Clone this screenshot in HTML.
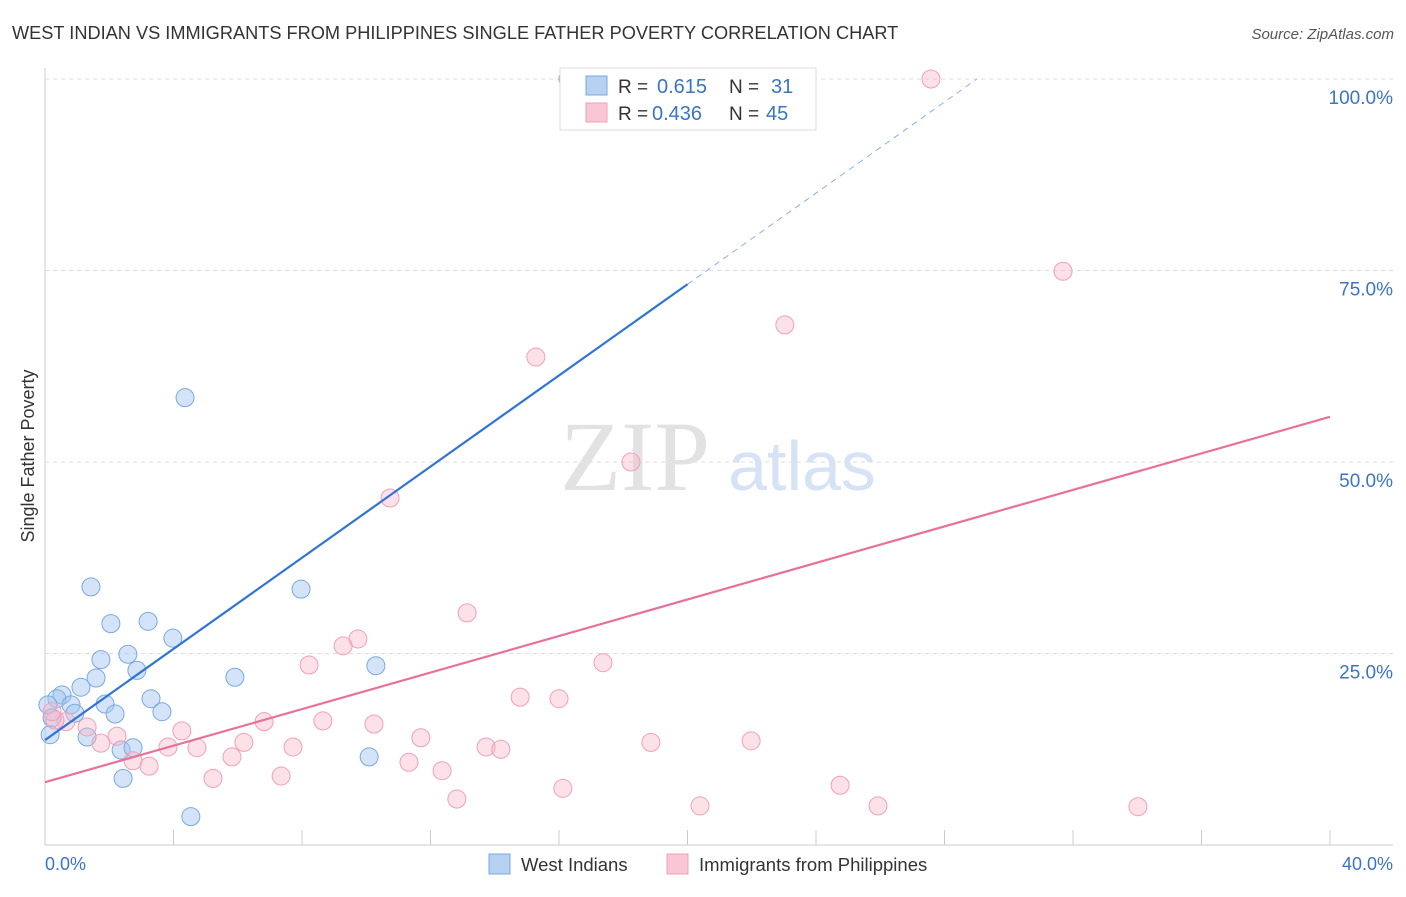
<!DOCTYPE html>
<html><head><meta charset="utf-8"><style>
body{margin:0;background:#fff;font-family:"Liberation Sans",sans-serif;}
</style></head><body>
<svg id="chart" width="1406" height="892" viewBox="0 0 1406 892" xmlns="http://www.w3.org/2000/svg" font-family="Liberation Sans, sans-serif">
<text x="12" y="39" font-size="18.2" fill="#333">WEST INDIAN VS IMMIGRANTS FROM PHILIPPINES SINGLE FATHER POVERTY CORRELATION CHART</text>
<text x="1394" y="39" font-size="15" fill="#555" text-anchor="end" font-style="italic">Source: ZipAtlas.com</text>
<g id="grid"></g>
<text x="635" y="490" font-size="100" fill="#e2e2e2" text-anchor="middle" style="font-family:'Liberation Serif',serif">ZIP</text>
<text x="802" y="490" font-size="70" fill="#d6e3f5" text-anchor="middle">atlas</text>
<text transform="translate(34,456) rotate(-90)" font-size="18" fill="#333" text-anchor="middle">Single Father Poverty</text>
<g id="points"></g>
<g id="lines"></g>
<g>
<rect x="560" y="68" width="256" height="62" fill="#fff" stroke="#ddd"/>
<rect x="586" y="76" width="21" height="19" fill="#b7d1f3" stroke="#7aa8e0"/>
<text x="618" y="93" font-size="19" fill="#333">R =</text>
<text x="657" y="93" font-size="20" fill="#3a75c4">0.615</text>
<text x="729" y="93" font-size="19" fill="#333">N =</text>
<text x="771" y="93" font-size="20" fill="#3a75c4">31</text>
<rect x="586" y="103" width="21" height="19" fill="#f9c6d4" stroke="#f0a0b8"/>
<text x="618" y="120" font-size="19" fill="#333">R =</text>
<text x="652" y="120" font-size="20" fill="#3a75c4">0.436</text>
<text x="729" y="120" font-size="19" fill="#333">N =</text>
<text x="766" y="120" font-size="20" fill="#3a75c4">45</text>
</g>
<text x="45" y="870" font-size="18" fill="#3a75c4">0.0%</text>
<text x="1393" y="870" font-size="18" fill="#3a75c4" text-anchor="end">40.0%</text>
<g>
<rect x="489" y="854" width="21" height="20" fill="#b7d1f3" stroke="#7aa8e0"/>
<text x="521" y="871" font-size="18.5" fill="#333">West Indians</text>
<rect x="667" y="854" width="21" height="20" fill="#f9c6d4" stroke="#f0a0b8"/>
<text x="699" y="871" font-size="18.5" fill="#333">Immigrants from Philippines</text>
</g>
</svg>
<script>
const yTicks=[25,50,75,100];
const yTickLabels=["25.0%","50.0%","75.0%","100.0%"];
const blueX=[16.28,4.36,1.43,2.05,3.21,7.97,3.98,1.74,2.58,2.86,10.30,1.59,5.91,1.12,0.53,0.37,3.30,0.81,1.87,3.64,2.18,0.93,1.31,2.37,2.74,10.09,2.43,4.54,0.09,0.22,0.16];
const blueY=[100,58.4,33.7,28.9,29.2,33.4,27.0,24.2,24.9,22.8,23.4,21.8,21.9,20.6,19.6,19.1,19.1,18.3,18.4,17.4,17.1,17.2,14.1,12.4,12.7,11.5,8.7,3.7,18.3,16.6,14.4];
const pinkX=[27.58,31.69,23.03,15.28,18.24,10.74,13.14,9.74,9.28,8.22,17.37,14.79,16.00,6.82,8.65,10.24,1.31,4.26,0.65,2.24,1.74,3.83,4.73,6.19,7.72,11.70,13.73,14.19,18.86,21.98,5.82,2.74,3.24,11.33,12.36,7.35,5.23,12.82,16.12,20.39,24.75,25.93,34.02,0.31,0.22];
const pinkY=[100,74.9,67.9,63.7,50.0,45.3,30.3,26.9,26.0,23.5,23.8,19.3,19.1,16.1,16.2,15.8,15.4,14.9,16.1,14.2,13.3,12.8,12.7,13.4,12.8,14.0,12.8,12.5,13.4,13.6,11.5,11.0,10.3,10.8,9.7,9.0,8.7,6.0,7.4,5.1,7.8,5.1,5.0,16.3,17.4];
const blueLine=[13.7,73.2]; // y at x=0, y at x=20
const pinkLine=[8.2,55.9];  // y at x=0, y at x=40
const NS="http://www.w3.org/2000/svg";
const sx=v=>45+v/40*1285;
const sy=v=>845-v/100*766;
function mk(tag,attrs,parent){const e=document.createElementNS(NS,tag);for(const k in attrs)e.setAttribute(k,attrs[k]);parent.appendChild(e);return e;}
const grid=document.getElementById('grid');
mk('line',{x1:45,y1:68,x2:45,y2:845,stroke:'#ccc'},grid);
mk('line',{x1:45,y1:845,x2:1393,y2:845,stroke:'#ccc'},grid);
yTicks.forEach((t,i)=>{
  const g=mk('line',{x1:45,y1:sy(t),x2:1393,y2:sy(t),stroke:'#ddd','stroke-dasharray':'4,4'},grid);
  
  
  const tx=mk('text',{x:1393,y:sy(t)+25,'font-size':19,fill:'#3a75c4','text-anchor':'end'},grid);
  tx.textContent=yTickLabels[i];
  
  
});
for(let i=1;i<=10;i++){
  const x=sx(i*4);
  const t=mk('line',{x1:x,y1:830,x2:x,y2:845,stroke:'#ccc'},grid);
  
  
}
const pts=document.getElementById('points');
blueX.forEach((x,i)=>{
  const c=mk('circle',{cx:sx(x),cy:sy(blueY[i]),r:9,fill:'rgba(160,196,240,0.45)',stroke:'#7aa8e0','stroke-width':1},pts);
  
  
});
pinkX.forEach((x,i)=>{
  const c=mk('circle',{cx:sx(x),cy:sy(pinkY[i]),r:9,fill:'rgba(248,180,200,0.4)',stroke:'#f0a0b8','stroke-width':1},pts);
  
  
});
const ln=document.getElementById('lines');
const bSlope=(blueLine[1]-blueLine[0])/20;
const l1=mk('line',{x1:sx(0),y1:sy(blueLine[0]),x2:sx(20),y2:sy(blueLine[1]),stroke:'#2f74d6','stroke-width':2.2},ln);


const xEnd=(100-blueLine[0])/bSlope;
const l2=mk('line',{x1:sx(20),y1:sy(blueLine[1]),x2:sx(xEnd),y2:sy(100),stroke:'#8ab0e6','stroke-width':1,'stroke-dasharray':'6,5'},ln);


const l3=mk('line',{x1:sx(0),y1:sy(pinkLine[0]),x2:sx(40),y2:sy(pinkLine[1]),stroke:'#e8709a','stroke-width':2.2},ln);


</script>
</body></html>
